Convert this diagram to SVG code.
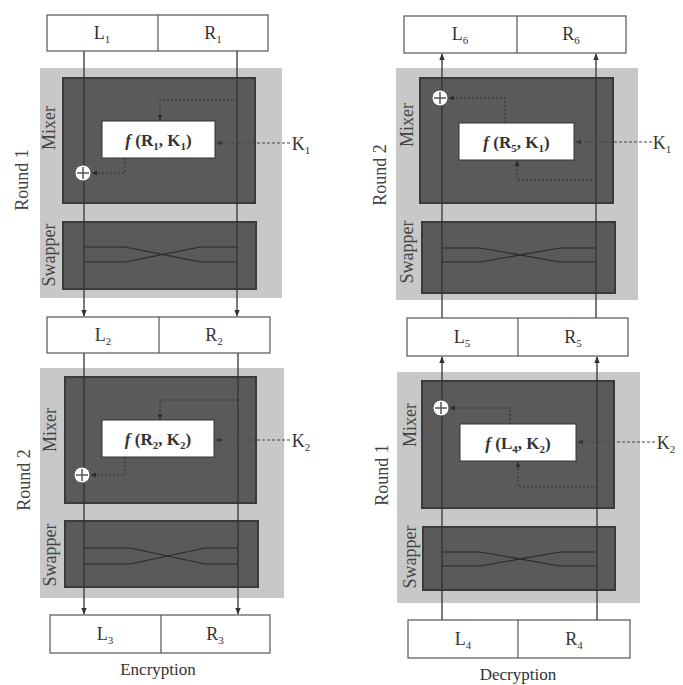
<svg xmlns="http://www.w3.org/2000/svg" width="683" height="685" viewBox="0 0 683 685">
<defs>
<marker id="ah" viewBox="0 0 10 10" refX="9" refY="5" markerWidth="7" markerHeight="7" orient="auto-start-reverse" markerUnits="userSpaceOnUse"><path d="M0,1 L10,5 L0,9 Z" fill="#333"/></marker>
<marker id="sh" viewBox="0 0 10 10" refX="9" refY="5" markerWidth="6" markerHeight="6" orient="auto-start-reverse" markerUnits="userSpaceOnUse"><path d="M0,1 L10,5 L0,9 Z" fill="#2a2a2a"/></marker>
<marker id="kh" viewBox="0 0 10 10" refX="9" refY="5" markerWidth="6" markerHeight="6" orient="auto-start-reverse" markerUnits="userSpaceOnUse"><path d="M0,1 L10,5 L0,9 Z" fill="#333"/></marker>
</defs>
<style>
text{font-family:"Liberation Serif","DejaVu Serif",serif;fill:#333}
.round{fill:#c8c8c8}
.dark{fill:#5a5a5a;stroke:#3a3a3a;stroke-width:2}
.wbox{fill:#fff;stroke:#555;stroke-width:1.2}
.fbox{fill:#fff;stroke:#333;stroke-width:1}
.lbl{font-size:18px;text-anchor:middle}
.rot{font-size:18px;text-anchor:middle;dominant-baseline:central;fill:#444}
.ftxt{font-size:17px;font-weight:bold;text-anchor:middle}
.flow{fill:none;stroke:#333;stroke-width:1.3}
.cross{fill:none;stroke:#2a2a2a;stroke-width:1.2}
.inner{fill:none;stroke:#2e2e2e;stroke-width:1;stroke-dasharray:2 2}
.key{fill:none;stroke:#444;stroke-width:1.1;stroke-dasharray:3 2}
.xor{fill:#fff;stroke:#555;stroke-width:1}
.xp{stroke:#555;stroke-width:1.5}
.cap{font-size:17px;text-anchor:middle}
</style>

<!-- Encryption column -->
<g id="enc-round1">
<rect class="round" x="40" y="68" width="242" height="230"/>
<text class="rot" transform="translate(22,180) rotate(-90)">Round 1</text>
<text class="rot" transform="translate(49,128) rotate(-90)">Mixer</text>
<text class="rot" transform="translate(49,255) rotate(-90)">Swapper</text>
</g>
<g id="enc-mixer1"><rect class="dark" x="63" y="78" width="192" height="125"/></g>
<g id="enc-swapper1"><rect class="dark" x="63" y="222" width="193" height="67"/></g>

<g id="enc-round2">
<rect class="round" x="40" y="368" width="244" height="230"/>
<text class="rot" transform="translate(24,480) rotate(-90)">Round 2</text>
<text class="rot" transform="translate(50,430) rotate(-90)">Mixer</text>
<text class="rot" transform="translate(50,555) rotate(-90)">Swapper</text>
</g>
<g id="enc-mixer2"><rect class="dark" x="65" y="377" width="191" height="126"/></g>
<g id="enc-swapper2"><rect class="dark" x="65" y="521" width="193" height="66"/></g>

<!-- Decryption column -->
<g id="dec-round2">
<rect class="round" x="396" y="68" width="242" height="232"/>
<text class="rot" transform="translate(380,175) rotate(-90)">Round 2</text>
<text class="rot" transform="translate(407,125) rotate(-90)">Mixer</text>
<text class="rot" transform="translate(407,252) rotate(-90)">Swapper</text>
</g>
<g id="dec-mixer2"><rect class="dark" x="420" y="78" width="193" height="125"/></g>
<g id="dec-swapper2"><rect class="dark" x="422" y="222" width="193" height="71"/></g>

<g id="dec-round1">
<rect class="round" x="397" y="372" width="243" height="231"/>
<text class="rot" transform="translate(382,475) rotate(-90)">Round 1</text>
<text class="rot" transform="translate(410,425) rotate(-90)">Mixer</text>
<text class="rot" transform="translate(410,557) rotate(-90)">Swapper</text>
</g>
<g id="dec-mixer1"><rect class="dark" x="422" y="381" width="192" height="127"/></g>
<g id="dec-swapper1"><rect class="dark" x="423" y="527" width="192" height="63"/></g>

<!-- connectors -->
<g id="connectors">
<!-- encryption main lines -->
<path class="flow" d="M84,51 V316" marker-end="url(#ah)"/>
<path class="flow" d="M237,51 V316" marker-end="url(#ah)"/>
<path class="flow" d="M84,353 V614" marker-end="url(#ah)"/>
<path class="flow" d="M238,353 V614" marker-end="url(#ah)"/>
<path class="cross" d="M84,247 H125 L200,262 H237"/>
<path class="cross" d="M237,247 H200 L125,262 H84"/>
<path class="cross" d="M84,548 H130 L205,564 H238"/>
<path class="cross" d="M238,548 H205 L130,564 H84"/>
<!-- encryption mixer internals -->
<path class="inner" d="M237,100 H160 V120" marker-end="url(#sh)"/>
<path class="inner" d="M125,158 V173 H92" marker-end="url(#sh)"/>
<path class="key" d="M290,143 H217" marker-end="url(#kh)"/>
<path class="inner" d="M238,400 H160 V419" marker-end="url(#sh)"/>
<path class="inner" d="M125,457 V475 H91" marker-end="url(#sh)"/>
<path class="key" d="M290,440 H216" marker-end="url(#kh)"/>

<!-- decryption main lines (upwards) -->
<path class="flow" d="M442,620 V357" marker-end="url(#ah)"/>
<path class="flow" d="M597,620 V357" marker-end="url(#ah)"/>
<path class="flow" d="M442,318 V54" marker-end="url(#ah)"/>
<path class="flow" d="M596,318 V54" marker-end="url(#ah)"/>
<path class="cross" d="M442,552 H480 L560,566 H597"/>
<path class="cross" d="M597,552 H560 L480,566 H442"/>
<path class="cross" d="M442,248 H480 L560,262 H596"/>
<path class="cross" d="M596,248 H560 L480,262 H442"/>
<!-- decryption mixer internals -->
<path class="inner" d="M596,180 H517 V161" marker-end="url(#sh)"/>
<path class="inner" d="M505,123 V98 H449" marker-end="url(#sh)"/>
<path class="key" d="M652,142 H576" marker-end="url(#kh)"/>
<path class="inner" d="M597,487 H518 V462" marker-end="url(#sh)"/>
<path class="inner" d="M510,424 V408 H450" marker-end="url(#sh)"/>
<path class="key" d="M655,442 H578" marker-end="url(#kh)"/>
</g>

<!-- XOR nodes -->
<g id="enc-xor1"><circle class="xor" cx="83" cy="173" r="8"/><path class="xp" d="M77,173 H89 M83,167 V179"/></g>
<g id="enc-xor2"><circle class="xor" cx="82" cy="475" r="8"/><path class="xp" d="M76,475 H88 M82,469 V481"/></g>
<g id="dec-xor2"><circle class="xor" cx="440" cy="98" r="8"/><path class="xp" d="M434,98 H446 M440,92 V104"/></g>
<g id="dec-xor1"><circle class="xor" cx="441" cy="408" r="8"/><path class="xp" d="M435,408 H447 M441,402 V414"/></g>

<!-- f boxes -->
<g id="enc-f1"><rect class="fbox" x="102" y="121" width="113" height="37"/>
<text class="ftxt" x="158.5" y="146"><tspan font-style="italic">f</tspan> (R<tspan font-size="11" dy="4">1</tspan><tspan dy="-4">, K</tspan><tspan font-size="11" dy="4">1</tspan><tspan dy="-4">)</tspan></text></g>
<g id="enc-f2"><rect class="fbox" x="102" y="420" width="112" height="37"/>
<text class="ftxt" x="158" y="445"><tspan font-style="italic">f</tspan> (R<tspan font-size="11" dy="4">2</tspan><tspan dy="-4">, K</tspan><tspan font-size="11" dy="4">2</tspan><tspan dy="-4">)</tspan></text></g>
<g id="dec-f2"><rect class="fbox" x="459" y="123" width="115" height="37"/>
<text class="ftxt" x="516.5" y="148"><tspan font-style="italic">f</tspan> (R<tspan font-size="11" dy="4">5</tspan><tspan dy="-4">, K</tspan><tspan font-size="11" dy="4">1</tspan><tspan dy="-4">)</tspan></text></g>
<g id="dec-f1"><rect class="fbox" x="460" y="424" width="116" height="37"/>
<text class="ftxt" x="518" y="449"><tspan font-style="italic">f</tspan> (L<tspan font-size="11" dy="4">4</tspan><tspan dy="-4">, K</tspan><tspan font-size="11" dy="4">2</tspan><tspan dy="-4">)</tspan></text></g>

<!-- keys -->
<g id="enc-k1"><text class="lbl" x="301" y="150">K<tspan font-size="11" dy="4">1</tspan></text></g>
<g id="enc-k2"><text class="lbl" x="301" y="447">K<tspan font-size="11" dy="4">2</tspan></text></g>
<g id="dec-k1"><text class="lbl" x="662" y="149">K<tspan font-size="11" dy="4">1</tspan></text></g>
<g id="dec-k2"><text class="lbl" x="666" y="449">K<tspan font-size="11" dy="4">2</tspan></text></g>

<!-- data blocks -->
<g id="blk-L1R1"><rect class="wbox" x="47" y="15" width="221" height="36"/><line x1="158" y1="15" x2="158" y2="51" stroke="#555" stroke-width="1.2"/>
<text class="lbl" x="102" y="39">L<tspan font-size="11" dy="4">1</tspan></text><text class="lbl" x="213" y="39">R<tspan font-size="11" dy="4">1</tspan></text></g>
<g id="blk-L2R2"><rect class="wbox" x="47" y="317" width="223" height="36"/><line x1="159" y1="317" x2="159" y2="353" stroke="#555" stroke-width="1.2"/>
<text class="lbl" x="103" y="341">L<tspan font-size="11" dy="4">2</tspan></text><text class="lbl" x="214" y="341">R<tspan font-size="11" dy="4">2</tspan></text></g>
<g id="blk-L3R3"><rect class="wbox" x="50" y="615" width="220" height="38"/><line x1="161" y1="615" x2="161" y2="653" stroke="#555" stroke-width="1.2"/>
<text class="lbl" x="105" y="640">L<tspan font-size="11" dy="4">3</tspan></text><text class="lbl" x="215" y="640">R<tspan font-size="11" dy="4">3</tspan></text></g>
<g id="blk-L6R6"><rect class="wbox" x="404" y="16" width="222" height="37"/><line x1="517" y1="16" x2="517" y2="53" stroke="#555" stroke-width="1.2"/>
<text class="lbl" x="460" y="40">L<tspan font-size="11" dy="4">6</tspan></text><text class="lbl" x="571" y="40">R<tspan font-size="11" dy="4">6</tspan></text></g>
<g id="blk-L5R5"><rect class="wbox" x="407" y="318" width="221" height="38"/><line x1="518" y1="318" x2="518" y2="356" stroke="#555" stroke-width="1.2"/>
<text class="lbl" x="462" y="343">L<tspan font-size="11" dy="4">5</tspan></text><text class="lbl" x="573" y="343">R<tspan font-size="11" dy="4">5</tspan></text></g>
<g id="blk-L4R4"><rect class="wbox" x="408" y="620" width="222" height="38"/><line x1="518" y1="620" x2="518" y2="658" stroke="#555" stroke-width="1.2"/>
<text class="lbl" x="463" y="645">L<tspan font-size="11" dy="4">4</tspan></text><text class="lbl" x="574" y="645">R<tspan font-size="11" dy="4">4</tspan></text></g>

<g id="captions">
<text class="cap" x="158" y="675">Encryption</text>
<text class="cap" x="518" y="680">Decryption</text>
</g>
</svg>
